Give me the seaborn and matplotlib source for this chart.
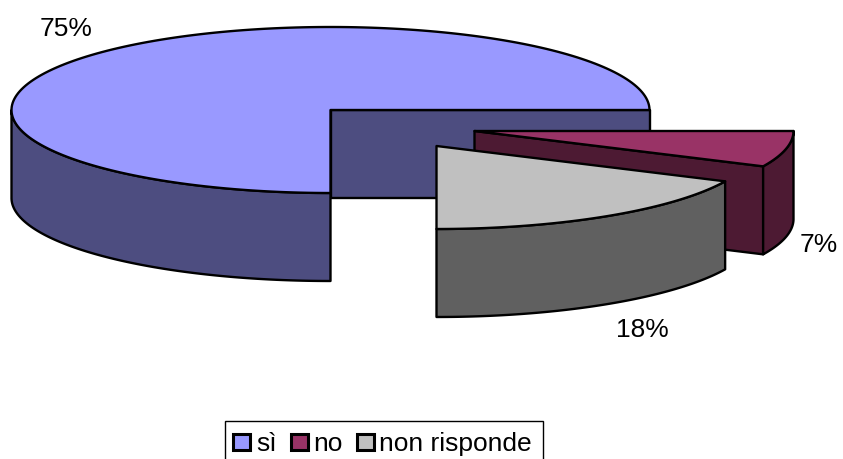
import numpy as np
import matplotlib
matplotlib.use("Agg")
import matplotlib.pyplot as plt
from matplotlib.patches import Polygon, Rectangle
import seaborn as sns

labels = ["sì", "no", "non risponde"]
shares = [75, 7, 18]
pct_labels = ["75%", "7%", "18%"]
top_colors = ["#9999FF", "#993366", "#C0C0C0"]
side_colors = ["#4D4D80", "#4D1A33", "#606060"]

# pie geometry in pixels
RX, RY, DEPTH = 319, 83, 88
centers = [(330.5, 111), (474.5, 132), (436.5, 147)]
label_pos = [(66, 29), (819, 245), (642, 330)]
legend_x = [(233, 256), (291, 313), (357, 379)]

sns.set_theme(style="white")
plt.rcParams["font.family"] = ["Liberation Sans", "DejaVu Sans"]


def arc(cx, cy, a0, a1, drop=0):
    t = np.radians(np.linspace(a0, a1, 200))
    return np.column_stack([cx + RX * np.cos(t), cy - RY * np.sin(t) + drop])


def draw_slice(ax, center, a0, a1, top, side):
    # a slice runs clockwise from a0 down to a1, angles in degrees
    cx, cy = center
    style = dict(edgecolor="black", linewidth=1.7, joinstyle="round")

    # the cut face at the clockwise end, when it turns towards the viewer
    if np.cos(np.radians(a1)) > 1e-6:
        rim = arc(cx, cy, a1, a1)[0]
        face = [(cx, cy), rim, rim + (0, DEPTH), (cx, cy + DEPTH)]
        ax.add_patch(Polygon(face, facecolor=side, **style))

    # outer wall, only the part on the front half of the ellipse
    for k in (0, -360):
        lo, hi = max(a1, k - 180), min(a0, k)
        if lo < hi:
            wall = np.vstack([arc(cx, cy, hi, lo), arc(cx, cy, lo, hi, DEPTH)])
            ax.add_patch(Polygon(wall, facecolor=side, **style))

    # lid of the slice
    ax.add_patch(Polygon(np.vstack([[(cx, cy)], arc(cx, cy, a0, a1)]), facecolor=top, **style))


fig = plt.figure(figsize=(8.43, 4.6), dpi=100)
ax = fig.add_axes([0, 0, 1, 1])
ax.set_xlim(0, 843)
ax.set_ylim(460, 0)
ax.axis("off")

# slices go clockwise starting at the bottom of the pie
start = -90
for i, share in enumerate(shares):
    sweep = share / sum(shares) * 360
    draw_slice(ax, centers[i], start, start - sweep, top_colors[i], side_colors[i])
    ax.text(*label_pos[i], pct_labels[i], fontsize=19, ha="center", va="center", color="black")
    start = start - sweep
    if start <= -360:
        start += 360

# legend box, runs off the bottom of the picture as in the source
ax.add_patch(Rectangle((224.5, 422), 318.5, 60, facecolor="white", edgecolor="black", linewidth=1))
for i, name in enumerate(labels):
    hx, tx = legend_x[i]
    ax.add_patch(Rectangle((hx, 434.5), 16.5, 16.5, facecolor=top_colors[i], edgecolor="black", linewidth=2.2))
    ax.text(tx, 444, name, fontsize=19, ha="left", va="center", color="black")

fig.savefig("out.png", dpi=100, facecolor="white")
